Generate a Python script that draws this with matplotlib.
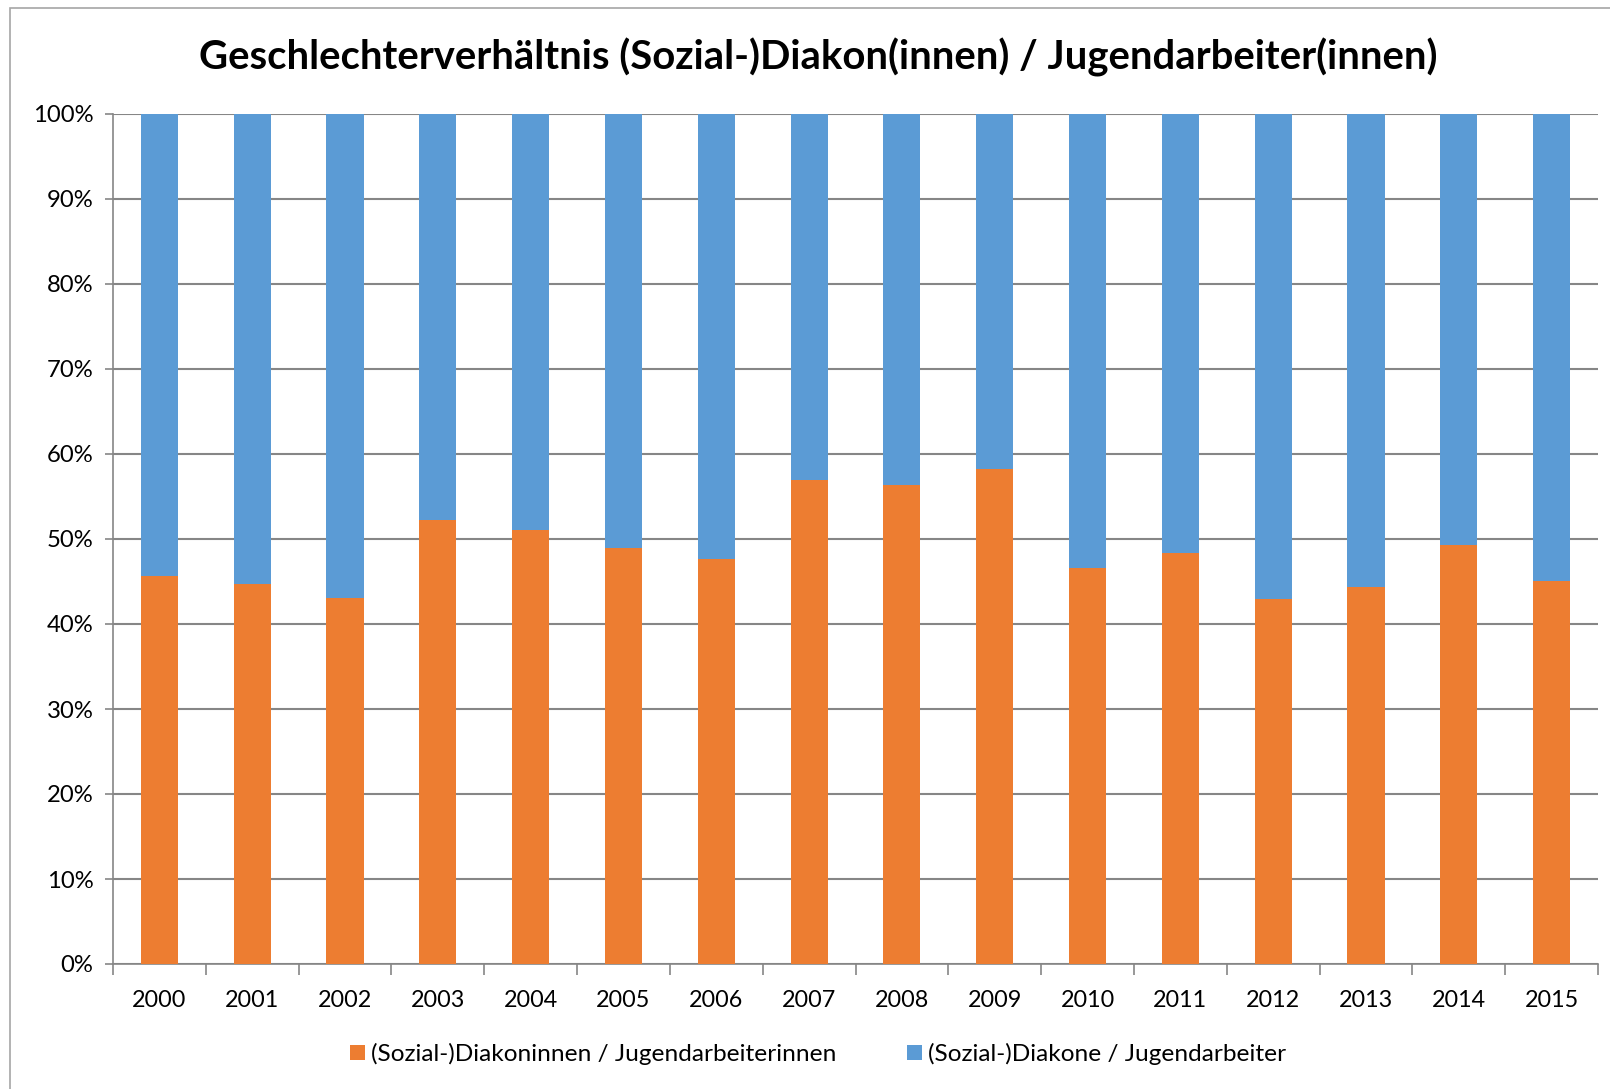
import matplotlib.pyplot as plt
import numpy as np
from matplotlib.patches import Rectangle
from matplotlib.ticker import PercentFormatter

years = ['2000', '2001', '2002', '2003', '2004', '2005', '2006', '2007',
         '2008', '2009', '2010', '2011', '2012', '2013', '2014', '2015']
# share of women in percent, men make up the rest
frauen = [45.6, 44.7, 43.1, 52.2, 51.1, 48.9, 47.7, 56.9,
          56.4, 58.2, 46.6, 48.4, 42.9, 44.4, 49.3, 45.1]
maenner = [100 - f for f in frauen]

label_f = '(Sozial-)Diakoninnen / Jugendarbeiterinnen'
label_m = '(Sozial-)Diakone / Jugendarbeiter'
title = 'Geschlechterverhältnis (Sozial-)Diakon(innen) / Jugendarbeiter(innen)'

orange = '#ED7D31'
blue = '#5B9BD5'
grid = '#868686'

plt.rcParams['font.family'] = ['Lato', 'DejaVu Sans']

fig = plt.figure(figsize=(16.1, 10.89), dpi=100)
# outer chart frame (right and bottom edge lie outside the picture)
fig.patches.append(Rectangle((10 / 1610, -0.1), 1.2, 1 - 8 / 1089 + 0.1,
                             transform=fig.transFigure, fill=False,
                             edgecolor='#A6A6A6', linewidth=1.2))

ax = fig.add_axes([113 / 1610, 1 - 964 / 1089, (1598 - 113) / 1610, (964 - 114) / 1089])
x = np.arange(len(years))
ax.bar(x, frauen, width=0.4, color=orange, label=label_f, zorder=3)
ax.bar(x, maenner, width=0.4, bottom=frauen, color=blue, label=label_m, zorder=3)

ax.set_xlim(-0.5, len(years) - 0.5)
ax.set_ylim(0, 100)
ax.set_yticks(np.arange(0, 101, 10))
ax.yaxis.set_major_formatter(PercentFormatter(100, decimals=0))
ax.yaxis.grid(True, color=grid, linewidth=1.5, zorder=0)
ax.set_xticks(x)
ax.set_xticklabels(years)
ax.set_xticks(np.arange(-0.5, len(years), 1), minor=True)
ax.tick_params(axis='x', which='major', length=0, pad=19, labelsize=16.8)
ax.tick_params(axis='x', which='minor', length=8, width=1.2, color=grid, direction='out')
ax.tick_params(axis='y', length=6, width=1.2, color=grid, pad=8, labelsize=17.2)

for side in ['top', 'right']:
    ax.spines[side].set_visible(False)
for side in ['left', 'bottom']:
    ax.spines[side].set_color(grid)
    ax.spines[side].set_linewidth(1.2)

fig.text(818 / 1610, 1 - 57 / 1089, title, ha='center', va='center',
         fontsize=28.8, fontweight='bold')

fig.legend(loc='center', bbox_to_anchor=(818 / 1610, 1 - 1054 / 1089), ncol=2,
           frameon=False, fontsize=17.6, handlelength=0.6, handleheight=0.6,
           handletextpad=0.25, columnspacing=2.9)

fig.savefig('out.png', dpi=100)
